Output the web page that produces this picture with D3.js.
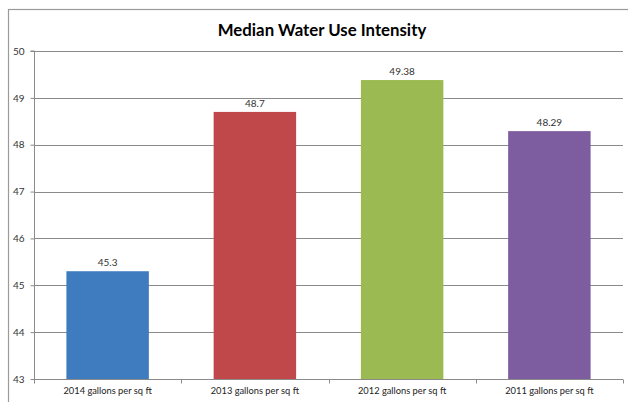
<!DOCTYPE html>
<html>
<head>
<meta charset="utf-8">
<script src="https://cdn.jsdelivr.net/npm/d3@7"></script>
<style>
  html, body { margin: 0; padding: 0; background: #fff; }
  svg { display: block; }
  text { font-family: Lato, "Open Sans", "Liberation Sans", sans-serif; }
</style>
</head>
<body>
<svg id="chart" width="628" height="402"></svg>
<script>
// Median water use intensity by reporting year
const categories = ["2014 gallons per sq ft", "2013 gallons per sq ft", "2012 gallons per sq ft", "2011 gallons per sq ft"];
const values = [45.3, 48.7, 49.38, 48.29];
const valueLabels = ["45.3", "48.7", "49.38", "48.29"];
const colors = ["#3f7bbf", "#c0474a", "#9bbb52", "#7d5ca0"];
const yTicks = [43, 44, 45, 46, 47, 48, 49, 50];
const title = "Median Water Use Intensity";

const svg = d3.select("#chart");
const W = 628, H = 402;
const plot = { left: 34, right: 623, top: 51, bottom: 379 };

// chart frame
svg.append("rect")
  .attr("x", 8.5).attr("y", 9.5)
  .attr("width", W + 20).attr("height", H + 20)
  .attr("fill", "#fff").attr("stroke", "#9a9a9a").attr("stroke-width", 1.2);

svg.append("text")
  .attr("x", 322).attr("y", 36)
  .attr("text-anchor", "middle")
  .attr("font-size", 16.8).attr("font-weight", "bold")
  .attr("fill", "#000")
  .text(title);

const x = d3.scaleBand().domain(categories)
  .range([plot.left, plot.right]).paddingInner(0.44).paddingOuter(0.22);
const y = d3.scaleLinear().domain([43, 50]).range([plot.bottom, plot.top]);

// gridlines
svg.append("g").selectAll("line").data(yTicks.filter(t => t > 43)).join("line")
  .attr("x1", plot.left).attr("x2", plot.right)
  .attr("y1", d => Math.round(y(d)) + 0.5).attr("y2", d => Math.round(y(d)) + 0.5)
  .attr("stroke", "#8a8a8a").attr("stroke-width", 1);

// bars
svg.append("g").selectAll("rect").data(categories).join("rect")
  .attr("x", (d) => x(d))
  .attr("width", x.bandwidth())
  .attr("y", (d, i) => y(values[i]))
  .attr("height", (d, i) => y(43) - y(values[i]))
  .attr("fill", (d, i) => colors[i]);

// value labels
svg.append("g").selectAll("text").data(categories).join("text")
  .attr("x", d => x(d) + x.bandwidth() / 2)
  .attr("y", (d, i) => y(values[i]) - 5)
  .attr("text-anchor", "middle")
  .attr("font-size", 10).attr("fill", "#333")
  .text((d, i) => valueLabels[i]);

// y axis
const yAxis = d3.axisLeft(y).tickValues(yTicks).tickSize(4).tickPadding(6).tickFormat(d3.format("d"));
const gy = svg.append("g").attr("transform", `translate(${plot.left + 0.5},0)`).call(yAxis);
gy.select(".domain").attr("stroke", "#8a8a8a").attr("d", `M-4,${plot.top}H0V${plot.bottom}`);
gy.selectAll(".tick line").attr("stroke", "#8a8a8a");
gy.selectAll(".tick text").attr("font-family", "Lato, 'Open Sans', sans-serif").attr("font-size", 10).attr("fill", "#333");

// x axis with ticks at band boundaries
const gx = svg.append("g").attr("transform", `translate(0,${plot.bottom + 0.5})`);
gx.append("line").attr("x1", plot.left).attr("x2", plot.right)
  .attr("stroke", "#8a8a8a");
const bounds = d3.range(categories.length + 1).map(i => plot.left + i * (plot.right - plot.left) / categories.length);
gx.selectAll("line.tk").data(bounds).join("line").attr("class", "tk")
  .attr("x1", d => Math.round(d) + 0.5).attr("x2", d => Math.round(d) + 0.5)
  .attr("y1", 0).attr("y2", 4).attr("stroke", "#8a8a8a");
gx.selectAll("text").data(categories).join("text")
  .attr("x", d => x(d) + x.bandwidth() / 2)
  .attr("y", 14)
  .attr("text-anchor", "middle")
  .attr("font-size", 9.3).attr("fill", "#222")
  .text(d => d);
</script>
</body>
</html>
